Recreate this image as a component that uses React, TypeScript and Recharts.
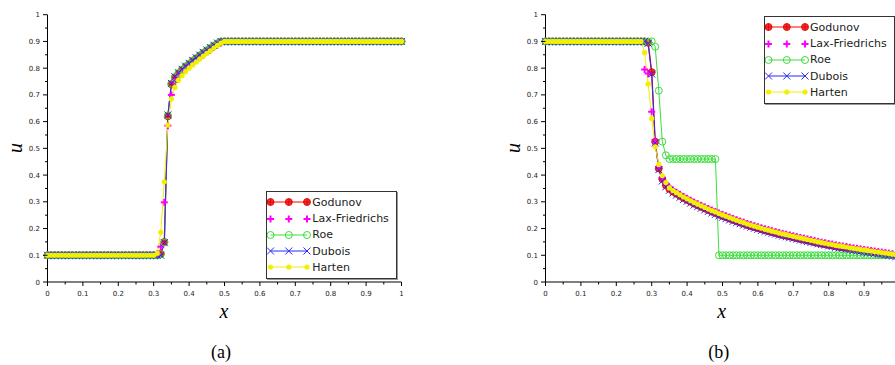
import { LineChart, Line, XAxis, YAxis, Legend } from 'recharts';

// mesh points, dx = 0.01
const xGrid = [
  0, 0.01, 0.02, 0.03, 0.04, 0.05, 0.06, 0.07, 0.08, 0.09,
  0.1, 0.11, 0.12, 0.13, 0.14, 0.15, 0.16, 0.17, 0.18, 0.19,
  0.2, 0.21, 0.22, 0.23, 0.24, 0.25, 0.26, 0.27, 0.28, 0.29,
  0.3, 0.31, 0.32, 0.33, 0.34, 0.35, 0.36, 0.37, 0.38, 0.39,
  0.4, 0.41, 0.42, 0.43, 0.44, 0.45, 0.46, 0.47, 0.48, 0.49,
  0.5, 0.51, 0.52, 0.53, 0.54, 0.55, 0.56, 0.57, 0.58, 0.59,
  0.6, 0.61, 0.62, 0.63, 0.64, 0.65, 0.66, 0.67, 0.68, 0.69,
  0.7, 0.71, 0.72, 0.73, 0.74, 0.75, 0.76, 0.77, 0.78, 0.79,
  0.8, 0.81, 0.82, 0.83, 0.84, 0.85, 0.86, 0.87, 0.88, 0.89,
  0.9, 0.91, 0.92, 0.93, 0.94, 0.95, 0.96, 0.97, 0.98, 0.99,
  1,
];

// (a) shock / rarefaction, u_L = 0.1, u_R = 0.9
const godunovA = [
  0.1, 0.1, 0.1, 0.1, 0.1, 0.1, 0.1, 0.1, 0.1, 0.1,
  0.1, 0.1, 0.1, 0.1, 0.1, 0.1, 0.1, 0.1, 0.1, 0.1,
  0.1, 0.1, 0.1, 0.1, 0.1, 0.1, 0.1, 0.1, 0.1, 0.1,
  0.1, 0.1, 0.105, 0.15, 0.62, 0.74, 0.765, 0.78, 0.793, 0.805,
  0.815, 0.826, 0.836, 0.846, 0.856, 0.865, 0.874, 0.883, 0.892, 0.899,
  0.9, 0.9, 0.9, 0.9, 0.9, 0.9, 0.9, 0.9, 0.9, 0.9,
  0.9, 0.9, 0.9, 0.9, 0.9, 0.9, 0.9, 0.9, 0.9, 0.9,
  0.9, 0.9, 0.9, 0.9, 0.9, 0.9, 0.9, 0.9, 0.9, 0.9,
  0.9, 0.9, 0.9, 0.9, 0.9, 0.9, 0.9, 0.9, 0.9, 0.9,
  0.9, 0.9, 0.9, 0.9, 0.9, 0.9, 0.9, 0.9, 0.9, 0.9,
  0.9,
];
const laxA = [
  0.1, 0.1, 0.1, 0.1, 0.1, 0.1, 0.1, 0.1, 0.1, 0.1,
  0.1, 0.1, 0.1, 0.1, 0.1, 0.1, 0.1, 0.1, 0.1, 0.1,
  0.1, 0.1, 0.1, 0.1, 0.1, 0.1, 0.1, 0.1, 0.1, 0.1,
  0.1, 0.105, 0.132, 0.298, 0.585, 0.7, 0.748, 0.77, 0.785, 0.797,
  0.808, 0.819, 0.83, 0.84, 0.85, 0.86, 0.869, 0.878, 0.887, 0.895,
  0.9, 0.9, 0.9, 0.9, 0.9, 0.9, 0.9, 0.9, 0.9, 0.9,
  0.9, 0.9, 0.9, 0.9, 0.9, 0.9, 0.9, 0.9, 0.9, 0.9,
  0.9, 0.9, 0.9, 0.9, 0.9, 0.9, 0.9, 0.9, 0.9, 0.9,
  0.9, 0.9, 0.9, 0.9, 0.9, 0.9, 0.9, 0.9, 0.9, 0.9,
  0.9, 0.9, 0.9, 0.9, 0.9, 0.9, 0.9, 0.9, 0.9, 0.9,
  0.9,
];
const roeA = [
  0.1, 0.1, 0.1, 0.1, 0.1, 0.1, 0.1, 0.1, 0.1, 0.1,
  0.1, 0.1, 0.1, 0.1, 0.1, 0.1, 0.1, 0.1, 0.1, 0.1,
  0.1, 0.1, 0.1, 0.1, 0.1, 0.1, 0.1, 0.1, 0.1, 0.1,
  0.1, 0.1, 0.104, 0.148, 0.623, 0.742, 0.767, 0.782, 0.795, 0.807,
  0.817, 0.828, 0.838, 0.848, 0.858, 0.867, 0.876, 0.885, 0.893, 0.9,
  0.9, 0.9, 0.9, 0.9, 0.9, 0.9, 0.9, 0.9, 0.9, 0.9,
  0.9, 0.9, 0.9, 0.9, 0.9, 0.9, 0.9, 0.9, 0.9, 0.9,
  0.9, 0.9, 0.9, 0.9, 0.9, 0.9, 0.9, 0.9, 0.9, 0.9,
  0.9, 0.9, 0.9, 0.9, 0.9, 0.9, 0.9, 0.9, 0.9, 0.9,
  0.9, 0.9, 0.9, 0.9, 0.9, 0.9, 0.9, 0.9, 0.9, 0.9,
  0.9,
];
const duboisA = [
  0.1, 0.1, 0.1, 0.1, 0.1, 0.1, 0.1, 0.1, 0.1, 0.1,
  0.1, 0.1, 0.1, 0.1, 0.1, 0.1, 0.1, 0.1, 0.1, 0.1,
  0.1, 0.1, 0.1, 0.1, 0.1, 0.1, 0.1, 0.1, 0.1, 0.1,
  0.1, 0.1, 0.1, 0.147, 0.625, 0.743, 0.768, 0.783, 0.796, 0.808,
  0.818, 0.829, 0.839, 0.849, 0.859, 0.868, 0.877, 0.886, 0.894, 0.9,
  0.9, 0.9, 0.9, 0.9, 0.9, 0.9, 0.9, 0.9, 0.9, 0.9,
  0.9, 0.9, 0.9, 0.9, 0.9, 0.9, 0.9, 0.9, 0.9, 0.9,
  0.9, 0.9, 0.9, 0.9, 0.9, 0.9, 0.9, 0.9, 0.9, 0.9,
  0.9, 0.9, 0.9, 0.9, 0.9, 0.9, 0.9, 0.9, 0.9, 0.9,
  0.9, 0.9, 0.9, 0.9, 0.9, 0.9, 0.9, 0.9, 0.9, 0.9,
  0.9,
];
const hartenA = [
  0.1, 0.1, 0.1, 0.1, 0.1, 0.1, 0.1, 0.1, 0.1, 0.1,
  0.1, 0.1, 0.1, 0.1, 0.1, 0.1, 0.1, 0.1, 0.1, 0.1,
  0.1, 0.1, 0.1, 0.1, 0.1, 0.1, 0.1, 0.1, 0.1, 0.1,
  0.1, 0.107, 0.186, 0.375, 0.587, 0.685, 0.728, 0.755, 0.772, 0.787,
  0.8, 0.812, 0.823, 0.834, 0.845, 0.855, 0.865, 0.875, 0.885, 0.894,
  0.9, 0.9, 0.9, 0.9, 0.9, 0.9, 0.9, 0.9, 0.9, 0.9,
  0.9, 0.9, 0.9, 0.9, 0.9, 0.9, 0.9, 0.9, 0.9, 0.9,
  0.9, 0.9, 0.9, 0.9, 0.9, 0.9, 0.9, 0.9, 0.9, 0.9,
  0.9, 0.9, 0.9, 0.9, 0.9, 0.9, 0.9, 0.9, 0.9, 0.9,
  0.9, 0.9, 0.9, 0.9, 0.9, 0.9, 0.9, 0.9, 0.9, 0.9,
  0.9,
];

// (b) u_L = 0.9, u_R = 0.1
const godunovB = [
  0.9, 0.9, 0.9, 0.9, 0.9, 0.9, 0.9, 0.9, 0.9, 0.9,
  0.9, 0.9, 0.9, 0.9, 0.9, 0.9, 0.9, 0.9, 0.9, 0.9,
  0.9, 0.9, 0.9, 0.9, 0.9, 0.9, 0.9, 0.9, 0.9, 0.895,
  0.785, 0.525, 0.425, 0.385, 0.362, 0.348, 0.338, 0.33, 0.322, 0.314,
  0.307, 0.3, 0.293, 0.287, 0.281, 0.275, 0.269, 0.263, 0.258, 0.252,
  0.247, 0.242, 0.237, 0.232, 0.227, 0.222, 0.218, 0.213, 0.209, 0.205,
  0.201, 0.197, 0.193, 0.19, 0.186, 0.183, 0.179, 0.176, 0.173, 0.17,
  0.167, 0.164, 0.161, 0.158, 0.155, 0.152, 0.149, 0.146, 0.143, 0.141,
  0.138, 0.136, 0.133, 0.131, 0.129, 0.127, 0.124, 0.122, 0.12, 0.118,
  0.116, 0.114, 0.112, 0.11, 0.108, 0.106, 0.104, 0.102, 0.1, 0.098,
  0.096,
];
const laxB = [
  0.9, 0.9, 0.9, 0.9, 0.9, 0.9, 0.9, 0.9, 0.9, 0.9,
  0.9, 0.9, 0.9, 0.9, 0.9, 0.9, 0.9, 0.9, 0.9, 0.9,
  0.9, 0.9, 0.9, 0.9, 0.9, 0.9, 0.9, 0.9, 0.795, 0.78,
  0.637, 0.525, 0.43, 0.39, 0.368, 0.354, 0.344, 0.336, 0.328, 0.32,
  0.313, 0.306, 0.299, 0.293, 0.287, 0.281, 0.275, 0.269, 0.264, 0.258,
  0.253, 0.248, 0.243, 0.238, 0.233, 0.228, 0.224, 0.219, 0.215, 0.211,
  0.207, 0.203, 0.199, 0.196, 0.192, 0.189, 0.185, 0.182, 0.179, 0.176,
  0.173, 0.17, 0.167, 0.164, 0.161, 0.158, 0.155, 0.152, 0.149, 0.147,
  0.144, 0.142, 0.139, 0.137, 0.135, 0.133, 0.13, 0.128, 0.126, 0.124,
  0.122, 0.12, 0.118, 0.116, 0.114, 0.112, 0.11, 0.108, 0.106, 0.104,
  0.102,
];
const roeB = [
  0.9, 0.9, 0.9, 0.9, 0.9, 0.9, 0.9, 0.9, 0.9, 0.9,
  0.9, 0.9, 0.9, 0.9, 0.9, 0.9, 0.9, 0.9, 0.9, 0.9,
  0.9, 0.9, 0.9, 0.9, 0.9, 0.9, 0.9, 0.9, 0.9, 0.9,
  0.9, 0.88, 0.716, 0.525, 0.474, 0.46, 0.46, 0.46, 0.46, 0.46,
  0.46, 0.46, 0.46, 0.46, 0.46, 0.46, 0.46, 0.46, 0.46, 0.1,
  0.1, 0.1, 0.1, 0.1, 0.1, 0.1, 0.1, 0.1, 0.1, 0.1,
  0.1, 0.1, 0.1, 0.1, 0.1, 0.1, 0.1, 0.1, 0.1, 0.1,
  0.1, 0.1, 0.1, 0.1, 0.1, 0.1, 0.1, 0.1, 0.1, 0.1,
  0.1, 0.1, 0.1, 0.1, 0.1, 0.1, 0.1, 0.1, 0.1, 0.1,
  0.1, 0.1, 0.1, 0.1, 0.1, 0.1, 0.1, 0.1, 0.1, 0.1,
  0.1,
];
const duboisB = [
  0.9, 0.9, 0.9, 0.9, 0.9, 0.9, 0.9, 0.9, 0.9, 0.9,
  0.9, 0.9, 0.9, 0.9, 0.9, 0.9, 0.9, 0.9, 0.9, 0.9,
  0.9, 0.9, 0.9, 0.9, 0.9, 0.9, 0.9, 0.9, 0.9, 0.893,
  0.778, 0.52, 0.42, 0.378, 0.356, 0.343, 0.333, 0.325, 0.317, 0.309,
  0.302, 0.295, 0.288, 0.282, 0.276, 0.27, 0.264, 0.258, 0.253, 0.247,
  0.242, 0.237, 0.232, 0.227, 0.222, 0.218, 0.213, 0.209, 0.205, 0.201,
  0.197, 0.193, 0.189, 0.186, 0.182, 0.179, 0.175, 0.172, 0.169, 0.166,
  0.163, 0.16, 0.157, 0.154, 0.151, 0.148, 0.146, 0.143, 0.14, 0.138,
  0.135, 0.133, 0.13, 0.128, 0.126, 0.124, 0.121, 0.119, 0.117, 0.115,
  0.113, 0.111, 0.109, 0.107, 0.105, 0.103, 0.101, 0.099, 0.097, 0.095,
  0.093,
];
const hartenB = [
  0.9, 0.9, 0.9, 0.9, 0.9, 0.9, 0.9, 0.9, 0.9, 0.9,
  0.9, 0.9, 0.9, 0.9, 0.9, 0.9, 0.9, 0.9, 0.9, 0.9,
  0.9, 0.9, 0.9, 0.9, 0.9, 0.9, 0.9, 0.9, 0.858, 0.741,
  0.612, 0.506, 0.44, 0.398, 0.372, 0.352, 0.342, 0.334, 0.326, 0.318,
  0.311, 0.304, 0.297, 0.291, 0.285, 0.279, 0.273, 0.267, 0.262, 0.256,
  0.251, 0.246, 0.241, 0.236, 0.231, 0.226, 0.222, 0.217, 0.213, 0.209,
  0.205, 0.201, 0.197, 0.194, 0.19, 0.187, 0.183, 0.18, 0.177, 0.174,
  0.171, 0.168, 0.165, 0.162, 0.159, 0.156, 0.153, 0.15, 0.147, 0.145,
  0.142, 0.14, 0.137, 0.135, 0.133, 0.131, 0.128, 0.126, 0.124, 0.122,
  0.12, 0.118, 0.116, 0.114, 0.112, 0.11, 0.108, 0.106, 0.104, 0.102,
  0.1,
];

const xTicks = [0, 0.05, 0.1, 0.15, 0.2, 0.25, 0.3, 0.35, 0.4, 0.45, 0.5, 0.55, 0.6, 0.65, 0.7, 0.75, 0.8, 0.85, 0.9, 0.95, 1];
const yTicks = [0, 0.05, 0.1, 0.15, 0.2, 0.25, 0.3, 0.35, 0.4, 0.45, 0.5, 0.55, 0.6, 0.65, 0.7, 0.75, 0.8, 0.85, 0.9, 0.95, 1];

type MarkKind = 'godunov' | 'lax' | 'roe' | 'dubois' | 'harten';

const SERIES: { key: MarkKind; name: string; color: string; line: boolean }[] = [
  { key: 'godunov', name: 'Godunov', color: '#ff0000', line: true },
  { key: 'lax', name: 'Lax-Friedrichs', color: '#ff00ff', line: false },
  { key: 'roe', name: 'Roe', color: '#3ddc3d', line: true },
  { key: 'dubois', name: 'Dubois', color: '#2828ff', line: true },
  { key: 'harten', name: 'Harten', color: '#f0f000', line: true },
];

function buildRows(g: number[], l: number[], r: number[], d: number[], h: number[]) {
  return xGrid.map((x, i) => ({ x, godunov: g[i], lax: l[i], roe: r[i], dubois: d[i], harten: h[i] }));
}

const rowsA = buildRows(godunovA, laxA, roeA, duboisA, hartenA);
const rowsB = buildRows(godunovB, laxB, roeB, duboisB, hartenB);

function Marker({ kind, cx, cy }: { kind: MarkKind; cx: number; cy: number }) {
  const s = 3.5;
  switch (kind) {
    case 'godunov':
      return (
        <g>
          <circle cx={cx} cy={cy} r={s} fill="#ff2a2a" stroke="#e00000" strokeWidth={0.8} />
          <line x1={cx - s} x2={cx + s} y1={cy} y2={cy} stroke="#b00000" strokeWidth={0.6} />
          <line x1={cx} x2={cx} y1={cy - s} y2={cy + s} stroke="#b00000" strokeWidth={0.6} />
        </g>
      );
    case 'lax':
      return (
        <g stroke="#ff00ff" strokeWidth={2}>
          <line x1={cx - s} x2={cx + s} y1={cy} y2={cy} />
          <line x1={cx} x2={cx} y1={cy - s} y2={cy + s} />
        </g>
      );
    case 'roe':
      return <circle cx={cx} cy={cy} r={s} fill="none" stroke="#3ddc3d" strokeWidth={1} />;
    case 'dubois':
      return (
        <g stroke="#2828ff" strokeWidth={1}>
          <line x1={cx - s} x2={cx + s} y1={cy - s} y2={cy + s} />
          <line x1={cx - s} x2={cx + s} y1={cy + s} y2={cy - s} />
        </g>
      );
    default:
      return <circle cx={cx} cy={cy} r={2.6} fill="#f0f000" />;
  }
}

const tickLabel = (v: number) => (v === 0 || v === 1 ? String(v) : v.toFixed(1));
const isMajor = (v: number) => Math.round(v * 100) % 10 === 0;

function YTick(props: any) {
  const { x, y, payload } = props;
  const major = isMajor(payload.value);
  const len = major ? 4.5 : 2.5;
  return (
    <g>
      <line x1={x - len} x2={x} y1={y} y2={y} stroke="#000" strokeWidth={1} />
      {major && (
        <text x={x - 7.5} y={y + 2.5} textAnchor="end" fontSize={7} fill="#222" fontFamily="DejaVu Sans, sans-serif">
          {tickLabel(payload.value)}
        </text>
      )}
    </g>
  );
}

function XTick(props: any) {
  const { x, y, payload } = props;
  const major = isMajor(payload.value);
  const len = major ? 4 : 2.5;
  return (
    <g>
      <line x1={x} x2={x} y1={y} y2={y + len} stroke="#000" strokeWidth={1} />
      {major && (
        <text x={x} y={y + 14} textAnchor="middle" fontSize={7} fill="#222" fontFamily="DejaVu Sans, sans-serif">
          {tickLabel(payload.value)}
        </text>
      )}
    </g>
  );
}

function LegendBox() {
  return (
    <div
      style={{
        position: 'relative',
        width: 131,
        height: 88,
        boxSizing: 'border-box',
        border: '1px solid #333',
        boxShadow: '1px 1px 0 #999',
        background: '#fff',
        fontFamily: '"DejaVu Sans", sans-serif',
        fontSize: 11,
        color: '#222',
      }}
    >
      {SERIES.map((s, i) => (
        <div
          key={s.key}
          style={{ position: 'absolute', left: 0, top: 2.3 + i * 16.25, height: 16, display: 'flex', alignItems: 'center', whiteSpace: 'nowrap' }}
        >
          <svg width={45} height={16} style={{ display: 'block' }}>
            {s.line && <line x1={3.5} x2={40} y1={8} y2={8} stroke={s.color} strokeWidth={1} />}
            {[3.5, 21.8, 40].map((cx) => (
              <Marker key={cx} kind={s.key} cx={cx} cy={8} />
            ))}
          </svg>
          <span>{s.name}</span>
        </div>
      ))}
    </div>
  );
}

const serifItalic: React.CSSProperties = {
  position: 'absolute',
  fontFamily: '"Liberation Serif", serif',
  fontStyle: 'italic',
  fontSize: 20,
  lineHeight: 1,
  transform: 'translate(-50%, -50%)',
};

function Panel({ left, rows, legendTop, caption }: { left: number; rows: any[]; legendTop: number; caption: string }) {
  return (
    <div style={{ position: 'absolute', left, top: 0, width: 440, height: 365 }}>
      <LineChart width={420} height={300} data={rows} margin={{ top: 14.7, right: 18.5, bottom: 0, left: 0 }}>
        <XAxis
          dataKey="x"
          type="number"
          domain={[0, 1]}
          ticks={xTicks}
          interval={0}
          height={18}
          tickSize={0}
          tickMargin={0}
          tickLine={false}
          axisLine={{ stroke: '#000', strokeWidth: 1 }}
          tick={<XTick />}
        />
        <YAxis
          type="number"
          domain={[0, 1]}
          ticks={yTicks}
          interval={0}
          width={47.5}
          tickSize={0}
          tickMargin={0}
          tickLine={false}
          axisLine={{ stroke: '#000', strokeWidth: 1 }}
          tick={<YTick />}
        />
        {SERIES.map((s) => (
          <Line
            key={s.key}
            dataKey={s.key}
            type="linear"
            stroke={s.line ? s.color : 'none'}
            strokeWidth={s.key === 'godunov' ? 1.3 : 1}
            dot={(p: any) => <Marker key={`${s.key}-${p.index}`} kind={s.key} cx={p.cx} cy={p.cy} />}
            activeDot={false}
            isAnimationActive={false}
          />
        ))}
        <Legend
          layout="horizontal"
          verticalAlign="middle"
          align="center"
          content={() => <LegendBox />}
          wrapperStyle={{ left: 266.3, top: legendTop, width: 131, height: 88 }}
        />
      </LineChart>
      <span style={{ ...serifItalic, left: 15, top: 148, transform: 'translate(-50%, -50%) rotate(-90deg)' }}>u</span>
      <span style={{ ...serifItalic, left: 224, top: 311 }}>x</span>
      <span style={{ ...serifItalic, fontStyle: 'normal', fontSize: 18, left: 221, top: 352 }}>{caption}</span>
    </div>
  );
}

export default function App() {
  return (
    <div style={{ position: 'absolute', left: 0, top: 0, width: 895, height: 365, overflow: 'hidden', background: '#fff' }}>
      <Panel left={0} rows={rowsA} legendTop={191} caption="(a)" />
      <Panel left={497.8} rows={rowsB} legendTop={16} caption="(b)" />
    </div>
  );
}
